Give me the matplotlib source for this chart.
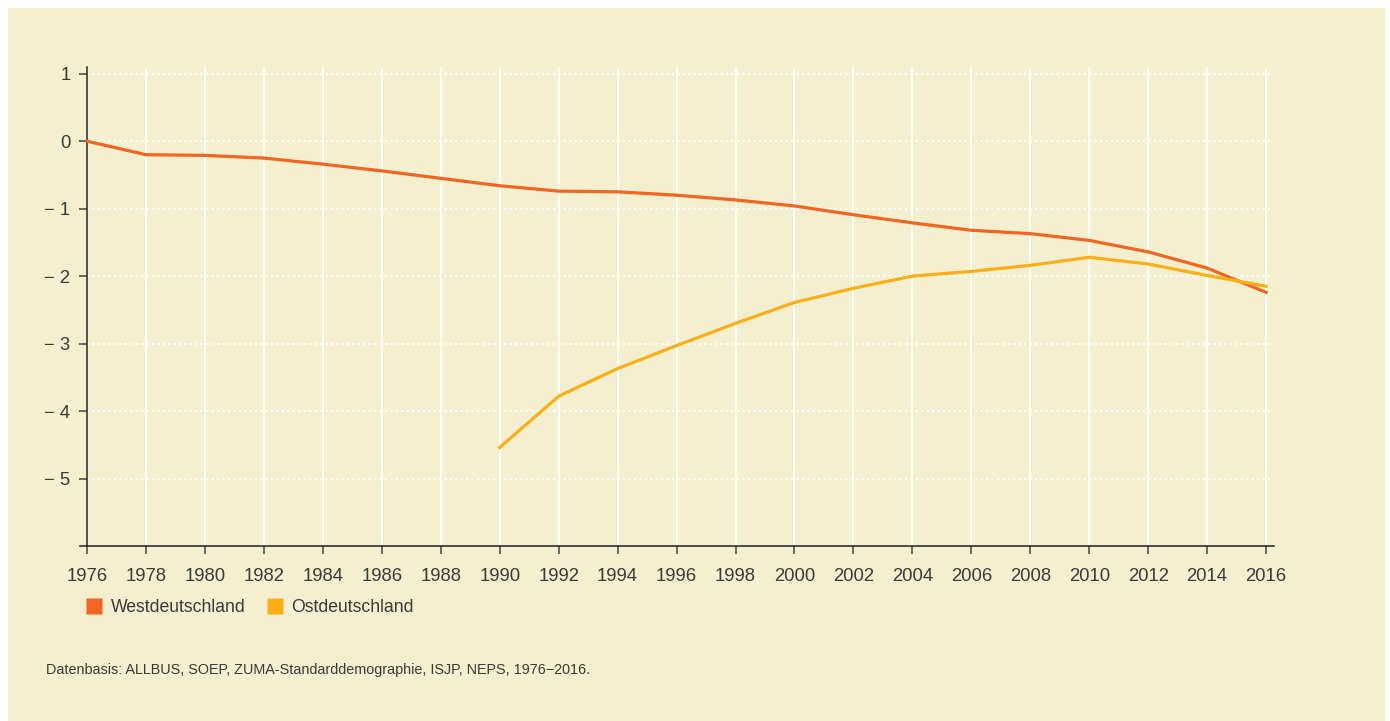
import matplotlib
matplotlib.use("Agg")
import matplotlib.pyplot as plt
from matplotlib.patches import Rectangle
from matplotlib.lines import Line2D

plt.rcParams['font.family'] = ['Liberation Sans', 'DejaVu Sans']

years_west = [1976, 1978, 1980, 1982, 1984, 1986, 1988, 1990, 1992, 1994, 1996,
              1998, 2000, 2002, 2004, 2006, 2008, 2010, 2012, 2014, 2016]
west = [0.0, -0.20, -0.21, -0.25, -0.34, -0.44, -0.55, -0.66, -0.74, -0.75, -0.80,
        -0.87, -0.96, -1.09, -1.21, -1.32, -1.37, -1.47, -1.64, -1.88, -2.24]
years_east = [1990, 1992, 1994, 1996, 1998, 2000, 2002, 2004, 2006, 2008, 2010,
              2012, 2014, 2016]
east = [-4.54, -3.78, -3.37, -3.03, -2.70, -2.39, -2.18, -2.00, -1.93, -1.84, -1.72,
        -1.82, -1.99, -2.15]
xticks = list(range(1976, 2017, 2))
yticks = [1, 0, -1, -2, -3, -4, -5]
series_names = ["Westdeutschland", "Ostdeutschland"]
footnote = "Datenbasis: ALLBUS, SOEP, ZUMA-Standarddemographie, ISJP, NEPS, 1976\u22122016."

BG = "#F4EFCE"
C_WEST = "#F26522"
C_EAST = "#FBAE17"
TXT = "#3a3a3a"

fig = plt.figure(figsize=(13.9, 7.21), dpi=100)
fig.patch.set_facecolor("white")
fig.patches.append(Rectangle((8/1390, 0), (1385-8)/1390, 1 - 8/721,
                             transform=fig.transFigure, facecolor=BG,
                             edgecolor="none", zorder=-10))

ax = fig.add_axes([80/1390, 1 - 546/721, (1274-80)/1390, (546-67)/721])
ax.set_facecolor("none")
ax.set_xlim(1975.76, 2016.27)
ax.set_ylim(-6.0, 1.10)

# grid
for x in xticks:
    ax.axvline(x, color="white", lw=1.3, zorder=1)
ax.hlines(yticks, 1976, 2016.27, colors="white", linestyles=(0, (1, 1.6)), lw=1.5, zorder=1)

ax.plot(years_west, west, color=C_WEST, lw=2.3, zorder=3, solid_joinstyle="round")
ax.plot(years_east, east, color=C_EAST, lw=2.3, zorder=3, solid_joinstyle="round")

for s in ["top", "right"]:
    ax.spines[s].set_visible(False)
ax.spines["left"].set_position(("data", 1976))
ax.spines["left"].set_color("#222222")
ax.spines["bottom"].set_color("#222222")
ax.spines["left"].set_linewidth(1.1)
ax.spines["bottom"].set_linewidth(1.1)

ax.set_xticks(xticks)
ax.set_yticks(yticks)
ax.set_yticklabels([str(v).replace("-", "\u2212 ") if v < 0 else str(v) for v in yticks])
ax.tick_params(axis="both", colors="#444444", labelcolor=TXT, labelsize=13.3,
               length=6, width=1.1, direction="out")
ax.tick_params(axis="y", pad=6)
ax.tick_params(axis="x", pad=10)

# legend
handles = [Line2D([], [], marker="s", color="none", markerfacecolor=C_WEST,
                  markeredgecolor="none", markersize=11.5),
           Line2D([], [], marker="s", color="none", markerfacecolor=C_EAST,
                  markeredgecolor="none", markersize=11.5)]
fig.legend(handles, series_names, loc="center left",
           bbox_to_anchor=(87/1390, 1 - 608/721), frameon=False, ncol=2,
           fontsize=12.7, labelcolor=TXT, handlelength=0.8, handletextpad=0.55,
           columnspacing=1.25, borderpad=0, borderaxespad=0)

fig.text(46/1390, 1 - 670/721, footnote, fontsize=10.4, color=TXT,
         ha="left", va="center")

fig.savefig("out.png", dpi=100, facecolor=fig.get_facecolor())
